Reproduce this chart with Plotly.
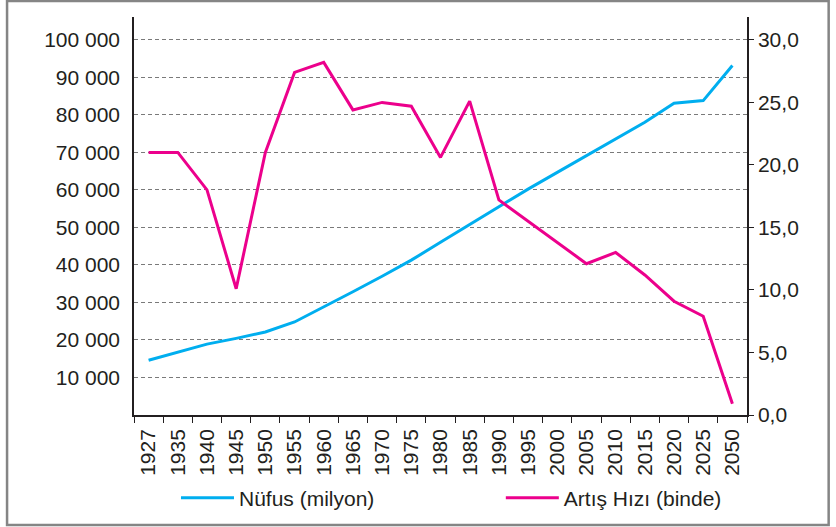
import plotly.graph_objects as go

years = ["1927", "1935", "1940", "1945", "1950", "1955", "1960", "1965", "1970", "1975",
         "1980", "1985", "1990", "1995", "2000", "2005", "2010", "2015", "2020", "2025", "2050"]
nufus = [14590, 16770, 18900, 20430, 22130, 24800, 28750, 32850, 36990, 41280,
         46030, 50750, 55490, 60210, 64670, 69150, 73600, 78050, 83120, 83810, 93150]
artis = [21.0, 21.0, 18.0, 10.1, 21.0, 27.4, 28.2, 24.4, 25.0, 24.7,
         20.6, 25.1, 17.2, 15.5, 13.8, 12.1, 13.0, 11.2, 9.1, 7.9, 0.9]
left_ticks = [10000, 20000, 30000, 40000, 50000, 60000, 70000, 80000, 90000, 100000]
right_ticks = [0, 5, 10, 15, 20, 25, 30]

BLUE = "#00AEEF"
PINK = "#EC008C"
TXT = "#231F20"
FONT = "Liberation Sans, Arial, sans-serif"

PL, PR, PT, PB = 134, 747.3, 17, 415
PW, PH = PR - PL, PB - PT

def px_x(v):
    return (v - PL) / PW

def px_y(v):
    return (PB - v) / PH

fig = go.Figure()
fig.add_trace(go.Scatter(x=years, y=nufus, mode="lines", name="Nüfus (milyon)",
                         line=dict(color=BLUE, width=3), yaxis="y", legend="legend"))
fig.add_trace(go.Scatter(x=years, y=artis, mode="lines", name="Artış Hızı (binde)",
                         line=dict(color=PINK, width=3), yaxis="y2", legend="legend2"))

leg_common = dict(orientation="h", xanchor="left", yanchor="middle", y=px_y(498),
                  itemwidth=53, font=dict(family=FONT, size=21, color=TXT),
                  bgcolor="rgba(0,0,0,0)", borderwidth=0)

fig.update_layout(
    width=836, height=527,
    margin=dict(l=PL, r=836 - PR, t=PT, b=527 - PB, autoexpand=False),
    paper_bgcolor="white", plot_bgcolor="white",
    separators=", ",
    font=dict(family=FONT, size=21, color=TXT),
    showlegend=True,
    legend=dict(x=px_x(176), **leg_common),
    legend2=dict(x=px_x(501), **leg_common),
    xaxis=dict(type="category", range=[-0.5, 20.5], tickson="boundaries",
               ticks="outside", ticklen=6, tickcolor=TXT, tickwidth=1.2,
               tickangle=-90, showline=True, linecolor=TXT, linewidth=1.5,
               ticklabelstandoff=4,
               showgrid=False, zeroline=False, automargin=False,
               tickfont=dict(size=21)),
    yaxis=dict(range=[0, 106100], tickvals=left_ticks, tickformat=",d",
               showline=True, linecolor=TXT, linewidth=1.5, ticks="",
               ticklabelstandoff=8, automargin=False,
               showgrid=True, gridcolor="#7a7a7a", gridwidth=1.2, griddash="4px,3px",
               zeroline=False, tickfont=dict(size=21)),
    yaxis2=dict(range=[0, 31.83], tickvals=right_ticks, tickformat=".1f",
                overlaying="y", side="right", showline=True, linecolor=TXT,
                linewidth=1.5, ticks="outside", ticklen=5, tickcolor=TXT,
                tickwidth=1.2, showgrid=False, zeroline=False, automargin=False,
                tickfont=dict(size=21)),
    shapes=[dict(type="rect", xref="paper", yref="paper",
                 x0=px_x(7), x1=px_x(829), y0=px_y(525), y1=px_y(1),
                 line=dict(color="#858585", width=2.5), fillcolor="rgba(0,0,0,0)",
                 layer="below")],
)

fig.write_html("out.html",
               config={"displayModeBar": False},
               post_script="document.body.style.margin='0';document.body.style.overflow='hidden';")
